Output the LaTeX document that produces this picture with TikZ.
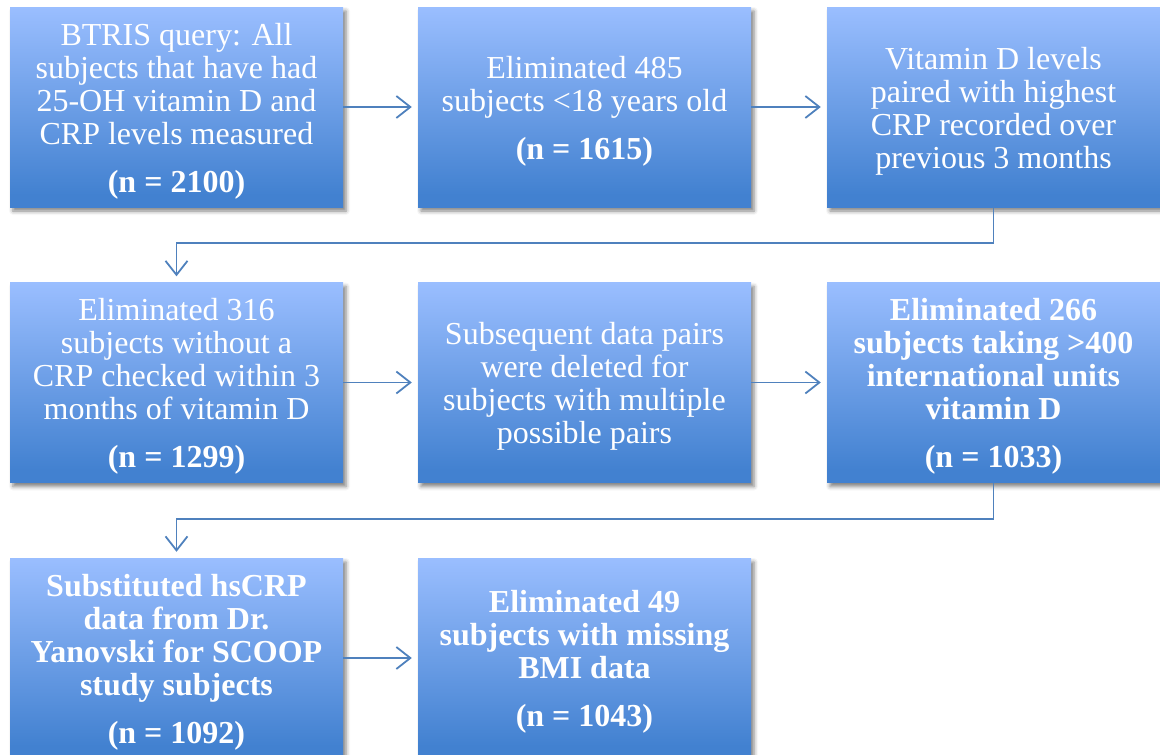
\documentclass[tikz,border=0pt]{standalone}
\usepackage{fontspec}
\setmainfont{Liberation Serif}
\usetikzlibrary{arrows.meta,shadows.blur}
\definecolor{boxtop}{RGB}{154,190,255}
\definecolor{boxbot}{RGB}{66,129,208}
\definecolor{conncol}{RGB}{79,129,189}
\pgfdeclareverticalshading{boxshade}{100bp}{color(0bp)=(boxbot); color(28bp)=(boxbot); color(75bp)=(boxtop); color(100bp)=(boxtop)}
\newcommand{\toppad}{\rule{0pt}{30pt}}
\tikzset{
  stepbox/.style={rectangle, minimum width=333pt, minimum height=200pt, inner sep=0pt,
    shade, shading=boxshade, text=white, align=center,
    font=\fontsize{32}{33}\selectfont,
    blur shadow={shadow xshift=3pt, shadow yshift=-4pt, shadow blur radius=4pt, shadow opacity=50}},
  conn/.style={draw=conncol, line width=1.8pt,
    -{Straight Barb[length=14pt,width=22pt,line width=1.8pt]}, shorten >=6pt}
}
\begin{document}
\begin{tikzpicture}[x=1pt,y=-1pt]
\useasboundingbox (0,0) rectangle (1160,755);
\node[stepbox] (b1) at (176.5,107) {\toppad BTRIS query: All\\subjects that have had\\25-OH vitamin D and\\CRP levels measured\\[15pt]\textbf{(n = 2100)}};
\node[stepbox] (b2) at (584.5,107) {\toppad Eliminated 485\\subjects <18 years old\\[15pt]\textbf{(n = 1615)}};
\node[stepbox] (b3) at (993.5,107) {\toppad Vitamin D levels\\paired with highest\\CRP recorded over\\previous 3 months};
\node[stepbox] (b4) at (176.5,382.5) {\toppad Eliminated 316\\subjects without a\\CRP checked within 3\\months of vitamin D\\[15pt]\textbf{(n = 1299)}};
\node[stepbox] (b5) at (584.5,382.5) {\toppad Subsequent data pairs\\were deleted for\\subjects with multiple\\possible pairs};
\node[stepbox, font=\fontsize{32}{33}\selectfont\bfseries] (b6) at (993.5,382.5) {\toppad Eliminated 266\\subjects taking >400\\international units\\vitamin D\\[15pt](n = 1033)};
\node[stepbox, font=\fontsize{32}{33}\selectfont\bfseries] (b7) at (176.5,658) {\toppad Substituted hsCRP\\data from Dr.\\Yanovski for SCOOP\\study subjects\\[15pt](n = 1092)};
\node[stepbox, font=\fontsize{32}{33}\selectfont\bfseries] (b8) at (584.5,658) {\toppad Eliminated 49\\subjects with missing\\BMI data\\[15pt](n = 1043)};
\draw[conn] (b1.east) -- (b2.west);
\draw[conn] (b2.east) -- (b3.west);
\draw[conn] (b3.south) -- ++(0,36) -| (b4.north);
\draw[conn] (b4.east) -- (b5.west);
\draw[conn] (b5.east) -- (b6.west);
\draw[conn] (b6.south) -- ++(0,36) -| (b7.north);
\draw[conn] (b7.east) -- (b8.west);
\end{tikzpicture}
\end{document}
